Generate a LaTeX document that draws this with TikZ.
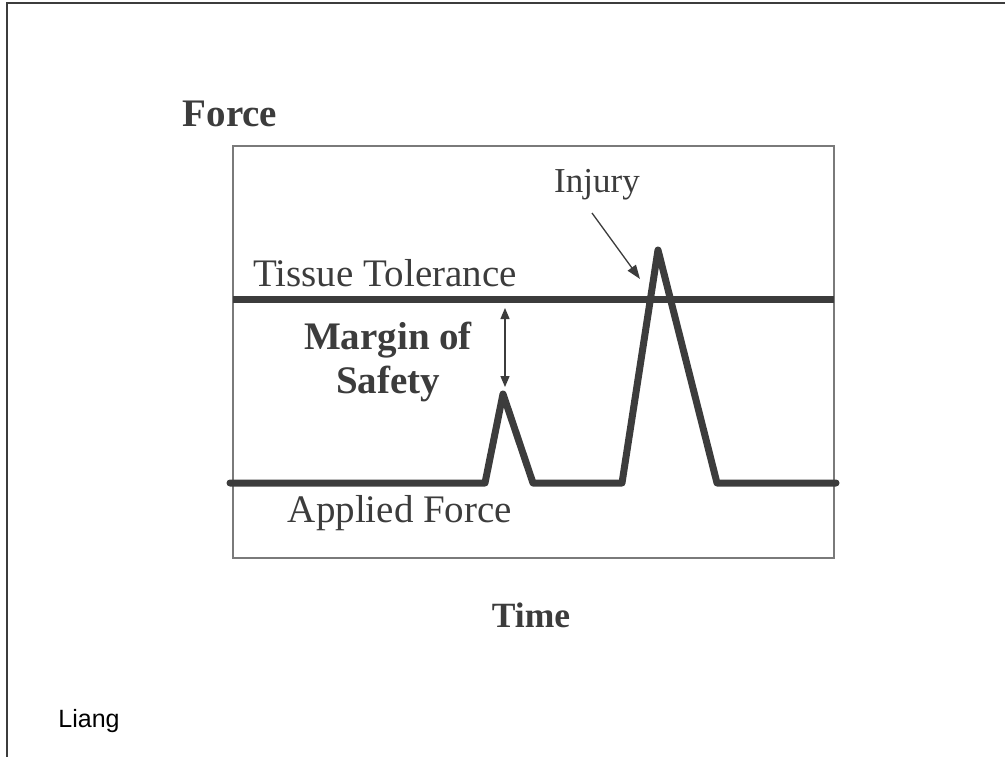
\documentclass[tikz,border=0pt]{standalone}
\usepackage{fontspec}
\setmainfont{Liberation Serif}
\setsansfont{Liberation Sans}
\usetikzlibrary{arrows, arrows.meta, positioning}
\definecolor{ink}{HTML}{3C3C3C}
\definecolor{frame}{HTML}{7A7A7A}

\begin{document}
\begin{tikzpicture}[x=1pt,y=-1pt]
\tikzset{
  txt/.style={text=ink, inner sep=0pt, anchor=base, font=\fontsize{39}{44}\selectfont},
  btxt/.style={txt, font=\fontsize{39}{44}\selectfont\bfseries},
  heavy/.style={draw=ink, line width=7pt},
  thin/.style={draw=ink, line width=1.3pt}
}
\useasboundingbox (0,0) rectangle (1005,757);

% page frame and plot box
\draw[ink, line width=1.2pt] (7,757) -- (7,3) -- (1005,3);
\draw[frame, line width=1.2pt] (233,146) rectangle (834,558);

\coordinate (T1) at (233,299);
\coordinate (T2) at (834,299);

\coordinate (A) at (230,483);
\coordinate (B) at (485,483);
\coordinate (C) at (503,394);
\coordinate (D) at (533,483);
\coordinate (E) at (622,483);
\coordinate (F) at (658,250);
\coordinate (G) at (717,483);
\coordinate (H) at (836,483);

\draw[heavy] (T1) -- (T2);
\draw[heavy, line cap=round, line join=round] (A) -- (B) -- (C) -- (D) -- (E) -- (F) -- (G) -- (H);

\coordinate (M1) at (505,308);
\coordinate (M2) at (505,387);
\draw[thin, {Triangle[length=11pt,width=9pt]}-{Triangle[length=11pt,width=9pt]}] (M1) -- (M2);

\coordinate (I1) at (592,213);
\coordinate (I2) at (640,279);
\draw[thin, -{Triangle[length=14pt,width=10pt]}] (I1) -- (I2);

\node[btxt] (force) at (230,127) {Force};
\node[txt] (tissue) at (385,287) {Tissue Tolerance};
\node[btxt, align=center, anchor=base] (margin) at (388,393) {Margin of\\Safety};
\node[txt, font=\fontsize{35}{40}\selectfont] (injury) at (597,193) {Injury};
\node[txt] (applied) at (400,522) {Applied Force};
\node[btxt, font=\fontsize{35.5}{40}\selectfont\bfseries] (time) at (531,627) {Time};
\node[txt, font=\sffamily\fontsize{25}{30}\selectfont, text=black] (liang) at (89,727) {Liang};
\end{tikzpicture}
\end{document}
